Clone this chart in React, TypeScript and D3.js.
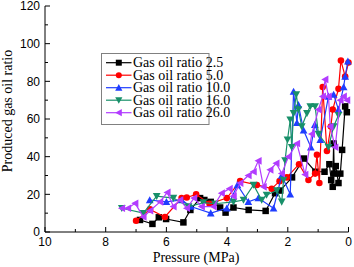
import { useEffect, useRef } from 'react';
import * as d3 from 'd3';

// pressure (MPa) and produced gas oil ratio, one pair of arrays per series
const p25 = [6.87, 6.46, 6.25, 6.01, 5.44, 5.21, 4.89, 4.75, 4.54, 4.23, 4.05, 3.79, 3.29, 2.73, 2.42, 2.25, 1.86, 1.47, 1.09, 0.79, 0.63, 0.57, 0.52, 0.49, 0.47, 0.42, 0.33, 0.27, 0.21, 0.11, 0.055];
const g25 = [6.4, 4.3, 7.8, 6.9, 5.1, 11.7, 18, 17, 16, 13, 10.3, 13, 11.7, 11.2, 20.6, 22, 29, 39, 32, 32, 36, 27.6, 24, 47, 31, 35, 26, 31, 43.6, 66.7, 63.6];

const p50 = [7.0, 6.54, 6.05, 5.5, 5.33, 5.02, 4.58, 4.01, 3.57, 3.02, 2.53, 2.27, 2.03, 1.63, 1.32, 1.1, 1.04, 0.96, 0.85, 0.71, 0.58, 0.52, 0.33, 0.25, 0.11, 0.0];
const g50 = [6, 12, 8, 18, 18.3, 20, 15, 18, 27, 25, 23, 27, 29, 36, 27.6, 31, 41, 26, 77, 43, 56, 65, 76, 91, 82.6, 90];

const p100 = [6.55, 6.0, 5.5, 5.2, 4.54, 4.01, 3.66, 3.3, 2.97, 2.47, 2.2, 1.92, 1.81, 1.7, 1.65, 1.48, 1.24, 1.11, 0.93, 0.66, 0.49, 0.33, 0.16, 0.11, 0.02];
const g100 = [17, 16, 17, 13.5, 10, 12.6, 25, 16, 18, 12.6, 30, 20, 74.6, 58, 67.5, 54, 45, 57, 49, 72, 73, 65, 77, 82.6, 90.6];

const p160 = [7.47, 6.76, 6.32, 5.77, 5.27, 4.78, 4.4, 3.79, 3.46, 3.13, 2.86, 2.7, 2.36, 2.2, 2.14, 2.09, 2.01, 1.92, 1.87, 1.81, 1.72, 1.65, 1.54, 1.37, 1.26, 1.1, 0.99, 0.66, 0.49, 0.33];
const g160 = [12.6, 10, 19, 18, 13.5, 15.6, 15, 16, 17, 25, 17, 19.7, 22, 16, 27.6, 38, 49, 59.6, 45, 63, 73, 65, 56, 63, 66.7, 66.7, 52, 45, 56, 62];

const p260 = [7.47, 7.27, 7.03, 6.76, 6.54, 6.21, 5.97, 5.77, 5.55, 5.33, 5.09, 4.84, 4.45, 4.18, 3.92, 3.79, 3.57, 3.3, 3.13, 2.97, 2.8, 2.58, 2.38, 2.2, 1.98, 1.7, 1.43, 1.21, 0.99, 0.85, 0.77, 0.66, 0.6, 0.44, 0.27, 0.16, 0.05];
const g260 = [12.6, 12.6, 15.2, 8, 11.3, 16, 21, 13.5, 17, 12.6, 18, 13.5, 13.5, 20.6, 23, 19, 26, 30, 32, 37.8, 24, 33, 36.5, 31, 40, 47, 30.5, 52, 65, 72, 81, 72, 56, 45, 70, 72, 70];

const seriesNames = ['Gas oil ratio 2.5', 'Gas oil ratio 5.0', 'Gas oil ratio 10.0', 'Gas oil ratio 16.0', 'Gas oil ratio 26.0'];
const seriesColors = ['#000000', '#ff0000', '#1f3dff', '#18906a', '#b23cff'];
const seriesShapes = ['square', 'circle', 'up', 'down', 'left'];
const xTicks = [10, 8, 6, 4, 2, 0];
const yTicks = [0, 20, 40, 60, 80, 100, 120];

const pressures = [p25, p50, p100, p160, p260];
const ratios = [g25, g50, g100, g160, g260];

function markerPath(shape: string, s: number) {
    const h = s / 2;
    if (shape === 'square') return `M${-h},${-h}H${h}V${h}H${-h}Z`;
    if (shape === 'circle') return d3.symbol(d3.symbolCircle, s * s * 0.8)() as string;
    if (shape === 'up') return `M0,${-h - 0.6}L${h + 0.6},${h}L${-h - 0.6},${h}Z`;
    if (shape === 'down') return `M0,${h + 0.6}L${h + 0.6},${-h}L${-h - 0.6},${-h}Z`;
    return `M${-h - 0.6},0L${h},${-h - 0.6}L${h},${h + 0.6}Z`;
}

export default function App() {
    const svgRef = useRef<SVGSVGElement | null>(null);

    useEffect(() => {
        if (!svgRef.current) return;
        const svg = d3.select(svgRef.current);
        svg.selectAll('*').remove();

        const x = d3.scaleLinear().domain([10, 0]).range([45, 348.5]);
        const y = d3.scaleLinear().domain([0, 120]).range([232, 6]);

        const data = seriesNames.map((name, i) => ({
            name,
            color: seriesColors[i],
            shape: seriesShapes[i],
            points: pressures[i].map((p, j) => [p, ratios[i][j]] as [number, number]),
        }));

        const line = d3.line<[number, number]>().x(d => x(d[0])).y(d => y(d[1]));

        const plot = svg.append('g');
        data.forEach(s => {
            const g = plot.append('g');
            g.append('path')
                .attr('d', line(s.points))
                .attr('fill', 'none')
                .attr('stroke', s.color)
                .attr('stroke-width', 1.2);
            g.selectAll('path.m')
                .data(s.points)
                .join('path')
                .attr('class', 'm')
                .attr('d', markerPath(s.shape, 6.5))
                .attr('transform', d => `translate(${x(d[0])},${y(d[1])})`)
                .attr('fill', s.color);
        });

        // axes (ticks point inwards)
        const axes = svg.append('g').attr('stroke', '#000').attr('stroke-width', 1);
        axes.append('line').attr('x1', 45).attr('x2', 45).attr('y1', y(120)).attr('y2', y(0));
        axes.append('line').attr('x1', 45).attr('x2', x(0)).attr('y1', y(0)).attr('y2', y(0));

        d3.range(0, 11).forEach(v => {
            const len = v % 2 === 0 ? 5 : 3;
            axes.append('line').attr('x1', x(v)).attr('x2', x(v)).attr('y1', y(0)).attr('y2', y(0) - len);
        });
        d3.range(0, 121, 10).forEach(v => {
            const len = v % 20 === 0 ? 5 : 3;
            axes.append('line').attr('x1', 45).attr('x2', 45 + len).attr('y1', y(v)).attr('y2', y(v));
        });

        const labels = svg.append('g').attr('font-family', 'Arial, "Liberation Sans", sans-serif').attr('font-size', 12).attr('fill', '#000');
        labels.selectAll('text.xt')
            .data(xTicks)
            .join('text')
            .attr('class', 'xt')
            .attr('x', d => x(d))
            .attr('y', 246)
            .attr('text-anchor', 'middle')
            .text(d => d);
        labels.selectAll('text.yt')
            .data(yTicks)
            .join('text')
            .attr('class', 'yt')
            .attr('x', 40)
            .attr('y', d => y(d) + 4.3)
            .attr('text-anchor', 'end')
            .text(d => d);

        const titles = svg.append('g').attr('font-family', '"Liberation Serif", "Times New Roman", serif').attr('font-size', 14).attr('fill', '#000');
        titles.append('text')
            .attr('x', 196)
            .attr('y', 262)
            .attr('text-anchor', 'middle')
            .text('Pressure (MPa)');
        titles.append('text')
            .attr('transform', `translate(12,${(y(0) + y(120)) / 2 - 8}) rotate(-90)`)
            .attr('text-anchor', 'middle')
            .text('Produced gas oil ratio');

        // legend
        const legend = svg.append('g');
        legend.append('rect')
            .attr('x', 101.5).attr('y', 53.5)
            .attr('width', 107.5).attr('height', 71)
            .attr('fill', '#fff')
            .attr('stroke', '#808080')
            .attr('stroke-width', 1);
        data.forEach((s, i) => {
            const ly = 62.7 + i * 12.5;
            const row = legend.append('g');
            row.append('line').attr('x1', 106).attr('x2', 131.5).attr('y1', ly).attr('y2', ly).attr('stroke', s.color).attr('stroke-width', 1.2);
            row.append('path').attr('d', markerPath(s.shape, 6)).attr('transform', `translate(118.8,${ly})`).attr('fill', s.color);
            row.append('text')
                .attr('x', 133)
                .attr('y', ly + 4.5)
                .attr('font-family', '"Liberation Serif", "Times New Roman", serif')
                .attr('font-size', 14)
                .attr('textLength', 73)
                .attr('lengthAdjust', 'spacingAndGlyphs')
                .text(s.name)
                .attr('textLength', null);
        });
    }, []);

    return (
        <div style={{ position: 'fixed', left: 0, top: 0 }}>
            <svg ref={svgRef} width={354} height={267} style={{ display: 'block', background: '#fff' }} />
        </div>
    );
}
